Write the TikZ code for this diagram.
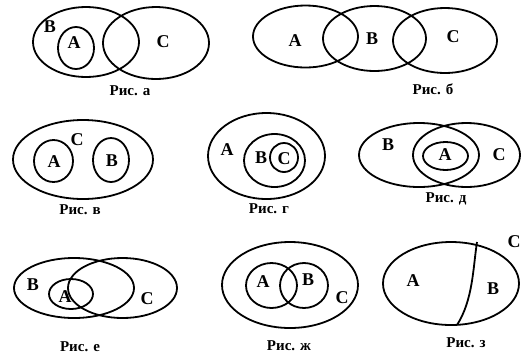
\documentclass[tikz,border=0pt]{standalone}
\usepackage{fontspec}
\setmainfont{Liberation Serif}
\begin{document}
\begin{tikzpicture}[x=1pt,y=-1pt,
  ring/.style={draw=black,line width=1.8pt},
  lbl/.style={font=\fontsize{18}{18}\selectfont\bfseries,inner sep=0pt},
  figcap/.style={font=\fontsize{15}{15}\selectfont\bfseries,inner sep=0pt}]
\useasboundingbox[fill=white] (0,0) rectangle (522,360);
% Fig a
\draw[ring] (86,42) ellipse [x radius=53pt,y radius=35pt];
\draw[ring] (156,43) ellipse [x radius=53pt,y radius=36pt];
\draw[ring] (76,48) ellipse [x radius=18pt,y radius=21pt];
\node[lbl] (aB) at (50,27) {B};
\node[lbl] (aA) at (74,43) {A};
\node[lbl] (aC) at (163,42) {C};
\node[figcap] (capa) at (130,91) {Рис. а};
% Fig b
\draw[ring] (305.5,36.5) ellipse [x radius=52.5pt,y radius=31pt];
\draw[ring] (374.5,38.5) ellipse [x radius=51.5pt,y radius=32.5pt];
\draw[ring] (445,40.5) ellipse [x radius=52pt,y radius=32.5pt];
\node[lbl] (bA) at (295,41) {A};
\node[lbl] (bB) at (372,39) {B};
\node[lbl] (bC) at (453,37) {C};
\node[figcap] (capb) at (433,89) {Рис. б};
% Fig v
\draw[ring] (83,159.5) ellipse [x radius=70pt,y radius=39.5pt];
\draw[ring] (53.5,161) ellipse [x radius=19.5pt,y radius=21pt];
\draw[ring] (111,160) ellipse [x radius=18pt,y radius=22pt];
\node[lbl] (vC) at (77,140) {C};
\node[lbl] (vA) at (54,162) {A};
\node[lbl] (vB) at (112,161) {B};
\node[figcap] (capv) at (80,210) {Рис. в};
% Fig g
\draw[ring] (266.5,156) ellipse [x radius=58.5pt,y radius=43pt];
\draw[ring] (274.5,160.5) ellipse [x radius=30.5pt,y radius=26.5pt];
\draw[ring] (284,157.5) ellipse [x radius=14pt,y radius=14.5pt];
\node[lbl] (gA) at (227,150) {A};
\node[lbl] (gB) at (261,158) {B};
\node[lbl] (gC) at (284,159) {C};
\node[figcap] (capg) at (269,209) {Рис. г};
% Fig d
\draw[ring] (419,155) ellipse [x radius=60pt,y radius=32pt];
\draw[ring] (466.5,155) ellipse [x radius=53.5pt,y radius=32pt];
\draw[ring] (445.5,156) ellipse [x radius=22.5pt,y radius=14pt];
\node[lbl] (dB) at (388,145) {B};
\node[lbl] (dA) at (445,155) {A};
\node[lbl] (dC) at (499,155) {C};
\node[figcap] (capd) at (446,199) {Рис. д};
% Fig e
\draw[ring] (74,288) ellipse [x radius=60pt,y radius=30pt];
\draw[ring] (122.5,288) ellipse [x radius=54.5pt,y radius=30pt];
\draw[ring] (71,294) ellipse [x radius=22pt,y radius=15pt];
\node[lbl] (eB) at (33,285) {B};
\node[lbl] (eA) at (65,297) {A};
\node[lbl] (eC) at (147,299) {C};
\node[figcap] (cape) at (80,347) {Рис. е};
% Fig zh
\draw[ring] (290,285) ellipse [x radius=68pt,y radius=43pt];
\draw[ring] (271.5,285.5) ellipse [x radius=25.5pt,y radius=22.5pt];
\draw[ring] (304,285.5) ellipse [x radius=24pt,y radius=22.5pt];
\node[lbl] (zA) at (263,282) {A};
\node[lbl] (zB) at (308,280) {B};
\node[lbl] (zC) at (342,298) {C};
\node[figcap] (capz) at (289,346) {Рис. ж};
% Fig z
\draw[ring] (451,283.5) ellipse [x radius=68pt,y radius=41.5pt];
\coordinate (ztop) at (477,242);
\coordinate (zbot) at (457,325);
\draw[ring] (ztop) .. controls (473,268) and (473,300) .. (zbot);
\node[lbl] (z3A) at (413,281) {A};
\node[lbl] (z3B) at (493,289) {B};
\node[lbl] (z3C) at (514,242) {C};
\node[figcap] (capz3) at (466,343) {Рис. з};
\end{tikzpicture}
\end{document}
